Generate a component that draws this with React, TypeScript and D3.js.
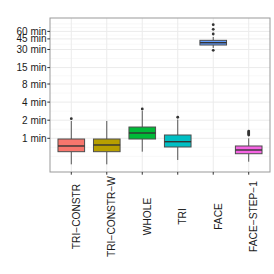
import React from "react";
import * as d3 from "d3";

// values in minutes
const categories = ["TRI−CONSTR", "TRI−CONSTR−W", "WHOLE", "TRI", "FACE", "FACE−STEP−1"];
const colors = ["#F8766D", "#B79F00", "#00BA38", "#00BFC4", "#619CFF", "#F564E3"];
const lowerWhisker = [0.369, 0.369, 0.599, 0.436, 31.8, 0.408];
const q1 = [0.599, 0.599, 0.973, 0.717, 35.6, 0.554];
const median = [0.745, 0.774, 1.225, 0.878, 38.9, 0.639];
const q3 = [0.973, 0.973, 1.54, 1.135, 42.6, 0.745];
const upperWhisker = [1.94, 1.94, 2.84, 2.05, 48.4, 1.0];
const outliers = [[2.12], [], [3.07], [2.24], [77.5, 65, 54.3, 29.1], [1.32, 1.27, 1.225, 1.18, 1.135]];
const tickValues = [1, 2, 4, 8, 15, 30, 45, 60];
const tickLabels = ["1 min", "2 min", "4 min", "8 min", "15 min", "30 min", "45 min", "60 min"];

export default function App() {
  const left = 50, right = 270, top = 18, bottom = 172;
  const y = d3.scaleLog().base(2).domain([0.2751, 100.2]).range([bottom, top]);
  // discrete axis with 0.6 expansion on each side
  const step = (right - left) / (categories.length - 1 + 1.2);
  const x = d3.scalePoint<string>().domain(categories).range([left + 0.6 * step, right - 0.6 * step]);
  const cx = (i: number) => x(categories[i]) as number;
  const boxW = step * 0.75;

  // minor breaks in log2 space
  const lg = tickValues.map((v) => Math.log2(v));
  const ext = [lg[0] - (lg[1] - lg[0]), ...lg, lg[lg.length - 1] + (lg[lg.length - 1] - lg[lg.length - 2])];
  const minors: number[] = [];
  for (let i = 0; i < ext.length - 1; i++) {
    minors.push((ext[i] + ext[i + 1]) / 2);
  }
  minors.push(ext[0], ext[ext.length - 1]);
  const minorY = minors.map((m) => y(Math.pow(2, m))).filter((p) => p >= top && p <= bottom);

  const font = "Liberation Sans, Arial, sans-serif";
  return (
    <svg width={274} height={274} style={{ position: "absolute", left: 0, top: 0 }} fontFamily={font}>
      <rect x={0} y={0} width={274} height={274} fill="#fff" />
      {minorY.map((p, i) => (
        <line key={"mn" + i} x1={left} x2={right} y1={p} y2={p} stroke="#F3F3F3" strokeWidth={0.6} />
      ))}
      {tickValues.map((v, i) => (
        <line key={"mj" + i} x1={left} x2={right} y1={y(v)} y2={y(v)} stroke="#EBEBEB" strokeWidth={1} />
      ))}
      {categories.map((c, i) => (
        <line key={"vg" + i} x1={cx(i)} x2={cx(i)} y1={top} y2={bottom} stroke="#EBEBEB" strokeWidth={1} />
      ))}
      {categories.map((c, i) => {
        const x0 = cx(i);
        return (
          <g key={"b" + i}>
            <line x1={x0} x2={x0} y1={y(q3[i])} y2={y(upperWhisker[i])} stroke="#555" strokeWidth={1} />
            <line x1={x0} x2={x0} y1={y(q1[i])} y2={y(lowerWhisker[i])} stroke="#555" strokeWidth={1} />
            <rect
              x={x0 - boxW / 2}
              y={y(q3[i])}
              width={boxW}
              height={y(q1[i]) - y(q3[i])}
              fill={colors[i]}
              stroke="#4d4d4d"
              strokeWidth={1}
            />
            <line x1={x0 - boxW / 2} x2={x0 + boxW / 2} y1={y(median[i])} y2={y(median[i])} stroke="#333" strokeWidth={1.4} />
            {outliers[i].map((o, j) => (
              <circle key={j} cx={x0} cy={y(o)} r={1.4} fill="#333" />
            ))}
          </g>
        );
      })}
      <rect x={left} y={top} width={right - left} height={bottom - top} fill="none" stroke="#999" strokeWidth={1} />
      {tickValues.map((v, i) => (
        <g key={"yt" + i}>
          <line x1={left - 2.7} x2={left} y1={y(v)} y2={y(v)} stroke="#333" strokeWidth={1} />
          <text x={left - 3.5} y={y(v)} dy="0.35em" textAnchor="end" fontSize={10} fill="#1a1a1a">
            {tickLabels[i]}
          </text>
        </g>
      ))}
      {categories.map((c, i) => (
        <g key={"xt" + i}>
          <line x1={cx(i)} x2={cx(i)} y1={bottom} y2={bottom + 2.7} stroke="#333" strokeWidth={1} />
          <text
            transform={`translate(${cx(i) + 8.6},216.5) rotate(-90)`}
            textAnchor="middle"
            fontSize={10.2}
            fill="#1a1a1a"
          >
            {c}
          </text>
        </g>
      ))}
    </svg>
  );
}
